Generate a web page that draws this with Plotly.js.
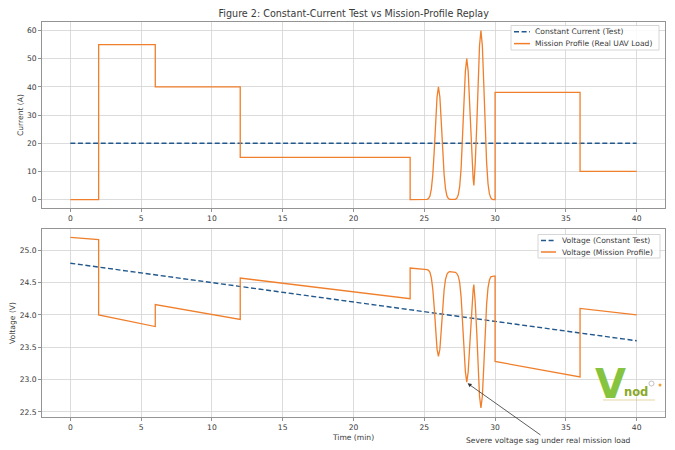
<!DOCTYPE html>
<html>
<head>
<meta charset="utf-8">
<script src="https://cdn.plot.ly/plotly-3.0.1.min.js"></script>
<style>html,body{margin:0;padding:0;background:#fff;}#chart{width:675px;height:450px;}</style>
</head>
<body>
<div id="chart"></div>
<script>
// ---- data ----
const ccTime = [0, 40];
const ccCurrent = [20, 20];

const mpTime = [0, 2, 2, 6, 6, 12, 12, 24, 24, 25.1, 25.2, 25.3, 25.4, 25.5, 25.6, 25.7, 25.8, 25.9, 26.0,
  26.1, 26.2, 26.3, 26.4, 26.5, 26.6, 26.7, 26.8, 27.2, 27.3, 27.4, 27.5, 27.6, 27.7, 27.8, 27.9, 28.0,
  28.1, 28.2, 28.3, 28.4, 28.45, 28.5, 28.55, 28.6, 28.7, 28.8, 28.9, 29.0, 29.1, 29.2, 29.3, 29.4, 29.5,
  29.6, 29.7, 29.8, 29.9, 30, 30, 36, 36, 40];
const mpCurrent = [0, 0, 55, 55, 40, 40, 15, 15, 0, 0, 0.1, 0.4, 1.3, 3.8, 8.8, 17.1, 27.4, 36.4, 40,
  36.4, 27.4, 17.1, 8.8, 3.8, 1.3, 0.4, 0.1, 0.1, 0.5, 1.7, 4.7, 11.0, 21.4, 34.3, 45.5, 50,
  45.5, 34.3, 21.4, 11.0, 7.4, 5.0, 8.8, 13.2, 25.6, 41.1, 54.6, 60, 54.6, 41.1, 25.6, 13.2, 5.6,
  2.0, 0.6, 0.1, 0, 0, 38, 38, 10, 10];
const mpVoltage = [25.2, 25.165, 24.0, 23.82, 24.16, 23.93, 24.57, 24.25, 24.725, 24.71, 24.70, 24.69, 24.66, 24.57, 24.40, 24.12, 23.78, 23.47, 23.36,
  23.47, 23.77, 24.11, 24.39, 24.55, 24.63, 24.66, 24.67, 24.66, 24.64, 24.60, 24.50, 24.28, 23.93, 23.50, 23.12, 22.96,
  23.12, 23.49, 23.92, 24.27, 24.39, 24.47, 24.33, 24.18, 23.75, 23.21, 22.74, 22.56, 22.74, 23.20, 23.73, 24.16, 24.42,
  24.54, 24.59, 24.60, 24.60, 24.60, 23.28, 23.04, 24.10, 24.00];
const ctTime = [0, 40];
const ctVoltage = [24.8, 23.6];

const xTicks = [0, 5, 10, 15, 20, 25, 30, 35, 40];
const sagPoint = [28.0, 22.95];
const sagText = [33.8, 22.05];

// ---- styles ----
const BLUE = '#22588c';
const ORANGE = '#f07f2c';
const FONT = 'DejaVu Sans, Verdana, sans-serif';
const TXT = '#3a3a3a';
const DASH = '5px,2.6px';

const traces = [
  {x: ccTime, y: ccCurrent, xaxis: 'x', yaxis: 'y', mode: 'lines', name: 'Constant Current (Test)',
   line: {color: BLUE, width: 1.4, dash: DASH}},
  {x: mpTime, y: mpCurrent, xaxis: 'x', yaxis: 'y', mode: 'lines', name: 'Mission Profile (Real UAV Load)',
   line: {color: ORANGE, width: 1.3}},
  {x: ctTime, y: ctVoltage, xaxis: 'x2', yaxis: 'y2', mode: 'lines', name: 'Voltage (Constant Test)',
   line: {color: BLUE, width: 1.4, dash: DASH}},
  {x: mpTime, y: mpVoltage, xaxis: 'x2', yaxis: 'y2', mode: 'lines', name: 'Voltage (Mission Profile)',
   line: {color: ORANGE, width: 1.3}}
];

const axisCommon = {
  showgrid: true, gridcolor: '#d3d3d3', gridwidth: 0.8,
  showline: true, linecolor: '#888', linewidth: 0.9, mirror: true,
  ticks: 'outside', ticklen: 3, tickcolor: '#777', tickwidth: 0.8,
  tickfont: {family: FONT, size: 7.6, color: TXT}, zeroline: false
};

// paper-coordinate helpers (plot area: x 42..665 px, y 22..417 px)
const PX = px => (px - 42) / 623;
const PY = py => (417 - py) / 395;

// manual legends (matplotlib-like compact boxes)
const shapes = [];
const annotations = [];
function addLegend(box, entries) {
  shapes.push({type: 'rect', xref: 'paper', yref: 'paper', layer: 'above',
    x0: PX(box[0]), x1: PX(box[1]), y0: PY(box[3]), y1: PY(box[2]),
    fillcolor: 'rgba(255,255,255,0.85)', line: {color: '#cccccc', width: 0.8}});
  entries.forEach(e => {
    shapes.push({type: 'line', xref: 'paper', yref: 'paper', layer: 'above',
      x0: PX(e.lx0), x1: PX(e.lx1), y0: PY(e.y), y1: PY(e.y),
      line: {color: e.color, width: 1.5, dash: e.dash}});
    annotations.push({xref: 'paper', yref: 'paper', x: PX(e.tx), y: PY(e.y), xanchor: 'left', yanchor: 'middle',
      text: e.text, showarrow: false, font: {family: FONT, size: 7.6, color: TXT}});
  });
}
addLegend([511, 659, 25.5, 50], [
  {lx0: 514, lx1: 530, tx: 533, y: 31.8, color: BLUE, dash: DASH, text: traces[0].name},
  {lx0: 514, lx1: 530, tx: 533, y: 43.6, color: ORANGE, dash: 'solid', text: traces[1].name}
]);
addLegend([538, 660, 234.5, 258], [
  {lx0: 541, lx1: 556, tx: 560, y: 240.5, color: BLUE, dash: DASH, text: traces[2].name},
  {lx0: 541, lx1: 556, tx: 560, y: 252, color: ORANGE, dash: 'solid', text: traces[3].name}
]);

// arrow annotation
annotations.push({x: sagPoint[0], y: sagPoint[1], xref: 'x2', yref: 'y2', ax: sagText[0], ay: sagText[1],
  axref: 'x2', ayref: 'y2', text: 'Severe voltage sag under real mission load',
  showarrow: true, arrowhead: 2, arrowsize: 1, arrowwidth: 0.8, arrowcolor: '#333',
  font: {family: FONT, size: 7.6, color: TXT}, standoff: 1});

// logo watermark
annotations.push(
  {xref: 'paper', yref: 'paper', x: PX(610), y: PY(384), text: '<b>V</b>', showarrow: false,
   font: {family: 'DejaVu Sans', size: 40, color: '#86c440'}, xanchor: 'center', yanchor: 'middle'},
  {xref: 'paper', yref: 'paper', x: PX(636), y: PY(392), text: '<b>nod</b>', showarrow: false,
   font: {family: 'DejaVu Sans', size: 11.5, color: '#8aa827'}, xanchor: 'center', yanchor: 'middle'}
);
shapes.push(
  {type: 'line', xref: 'paper', yref: 'paper', layer: 'above', x0: PX(603), x1: PX(655), y0: PY(400), y1: PY(400),
   line: {color: 'rgba(200,170,60,0.6)', width: 0.8}},
  {type: 'circle', xref: 'paper', yref: 'paper', layer: 'above', x0: PX(658.5), x1: PX(661.5), y0: PY(386.5), y1: PY(383.5),
   fillcolor: '#f0a030', line: {width: 0}},
  {type: 'circle', xref: 'paper', yref: 'paper', layer: 'above', x0: PX(649), x1: PX(654), y0: PY(386), y1: PY(381),
   fillcolor: 'rgba(0,0,0,0)', line: {color: '#999', width: 0.6}}
);

const layout = {
  width: 675, height: 450,
  margin: {l: 42, r: 10, t: 22, b: 33},
  paper_bgcolor: '#fff', plot_bgcolor: '#fff',
  font: {family: FONT, color: TXT},
  showlegend: false,
  title: {text: 'Figure 2: Constant-Current Test vs Mission-Profile Replay',
          font: {family: FONT, size: 9.6, color: TXT}, x: 0.524, xanchor: 'center', y: 0.97, yanchor: 'middle'},
  xaxis: Object.assign({}, axisCommon, {anchor: 'y', domain: [0, 1], range: [-2, 42], tickvals: xTicks}),
  yaxis: Object.assign({}, axisCommon, {anchor: 'x', domain: [0.529, 1], range: [-3, 63], dtick: 10,
          title: {text: 'Current (A)', font: {family: FONT, size: 7.6, color: TXT}, standoff: 2}}),
  xaxis2: Object.assign({}, axisCommon, {anchor: 'y2', domain: [0, 1], range: [-2, 42], tickvals: xTicks,
          title: {text: 'Time (min)', font: {family: FONT, size: 7.6, color: TXT}, standoff: 3}}),
  yaxis2: Object.assign({}, axisCommon, {anchor: 'x2', domain: [0, 0.476], range: [22.42, 25.33], dtick: 0.5,
          tickformat: '.1f',
          title: {text: 'Voltage (V)', font: {family: FONT, size: 7.6, color: TXT}, standoff: 2}}),
  shapes: shapes,
  annotations: annotations
};

Plotly.newPlot('chart', traces, layout, {staticPlot: true, displayModeBar: false});
</script>
</body>
</html>
